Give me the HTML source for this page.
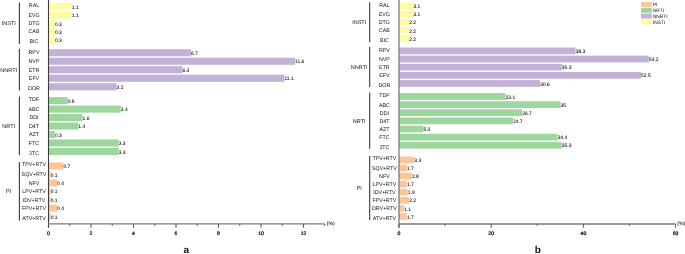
<!DOCTYPE html>
<html><head><meta charset="utf-8"><style>
html,body{margin:0;padding:0;background:#fff;width:685px;height:254px;overflow:hidden}
svg{display:block;will-change:transform}
text{font-family:"Liberation Sans", sans-serif;fill:#111;text-rendering:geometricPrecision}
.v{font-size:4.9px;fill:#000;stroke:#000;stroke-width:0.05px}
.c{font-size:5.3px;text-anchor:middle}
.g{font-size:5.5px;text-anchor:middle}
.t{font-size:5.1px;text-anchor:middle;fill:#000;stroke:#000;stroke-width:0.22px}
.p{font-size:5.1px;fill:#000;stroke:#000;stroke-width:0.05px}
.l{font-size:4.8px}
.ab{font-size:10px;font-weight:bold;fill:#111}
</style></head><body>
<svg width="685" height="254" viewBox="0 0 685 254">
<rect x="48.50" y="3.00" width="23.38" height="7.10" fill="#FFFC9E"/>
<text x="71.97" y="8.65" class="v">1.1</text>
<text x="34.00" y="6.70" class="c">RAL</text>
<rect x="48.50" y="11.45" width="23.38" height="7.10" fill="#FFFC9E"/>
<text x="71.97" y="17.10" class="v">1.1</text>
<text x="34.00" y="16.85" class="c">EVG</text>
<rect x="48.50" y="19.90" width="6.38" height="7.10" fill="#FFFC9E"/>
<text x="54.98" y="25.55" class="v">0.3</text>
<text x="34.00" y="25.30" class="c">DTG</text>
<rect x="48.50" y="28.35" width="6.38" height="7.10" fill="#FFFC9E"/>
<text x="54.98" y="34.00" class="v">0.3</text>
<text x="34.00" y="32.75" class="c">CAB</text>
<rect x="48.50" y="36.80" width="6.38" height="7.10" fill="#FFFC9E"/>
<text x="54.98" y="42.45" class="v">0.3</text>
<text x="34.00" y="42.50" class="c">BIC</text>
<line x1="19.4" y1="2.50" x2="19.4" y2="44.10" stroke="#3a3a3a" stroke-width="1.1"/>
<text x="8.70" y="25.25" class="g">INSTI</text>
<rect x="48.50" y="49.20" width="142.38" height="7.10" fill="#C3B2D8"/>
<text x="190.97" y="54.85" class="v">6.7</text>
<text x="34.00" y="53.90" class="c">RPV</text>
<rect x="48.50" y="57.70" width="246.50" height="7.10" fill="#C3B2D8"/>
<text x="295.10" y="63.35" class="v">11.6</text>
<text x="34.00" y="63.10" class="c">NVP</text>
<rect x="48.50" y="66.20" width="133.88" height="7.10" fill="#C3B2D8"/>
<text x="182.47" y="71.85" class="v">6.3</text>
<text x="34.00" y="71.60" class="c">ETR</text>
<rect x="48.50" y="74.70" width="235.88" height="7.10" fill="#C3B2D8"/>
<text x="284.48" y="80.35" class="v">11.1</text>
<text x="34.00" y="80.10" class="c">EFV</text>
<rect x="48.50" y="83.20" width="68.00" height="7.10" fill="#C3B2D8"/>
<text x="116.60" y="88.85" class="v">3.2</text>
<text x="34.00" y="89.90" class="c">DOR</text>
<line x1="19.4" y1="48.70" x2="19.4" y2="90.50" stroke="#3a3a3a" stroke-width="1.1"/>
<text x="8.70" y="71.55" class="g">NNRTI</text>
<rect x="48.50" y="97.10" width="19.12" height="7.10" fill="#9ED79D"/>
<text x="67.72" y="102.75" class="v">0.9</text>
<text x="34.00" y="100.80" class="c">TDF</text>
<rect x="48.50" y="105.57" width="72.25" height="7.10" fill="#9ED79D"/>
<text x="120.85" y="111.22" class="v">3.4</text>
<text x="34.00" y="110.97" class="c">ABC</text>
<rect x="48.50" y="114.04" width="34.00" height="7.10" fill="#9ED79D"/>
<text x="82.60" y="119.69" class="v">1.6</text>
<text x="34.00" y="119.44" class="c">DDI</text>
<rect x="48.50" y="122.51" width="29.75" height="7.10" fill="#9ED79D"/>
<text x="78.35" y="128.16" class="v">1.4</text>
<text x="34.00" y="127.91" class="c">D4T</text>
<rect x="48.50" y="130.98" width="6.38" height="7.10" fill="#9ED79D"/>
<text x="54.98" y="136.63" class="v">0.3</text>
<text x="34.00" y="136.38" class="c">AZT</text>
<rect x="48.50" y="139.45" width="70.12" height="7.10" fill="#9ED79D"/>
<text x="118.72" y="145.10" class="v">3.3</text>
<text x="34.00" y="144.85" class="c">FTC</text>
<rect x="48.50" y="147.92" width="70.12" height="7.10" fill="#9ED79D"/>
<text x="118.72" y="153.57" class="v">3.3</text>
<text x="34.00" y="154.62" class="c">3TC</text>
<line x1="19.4" y1="96.60" x2="19.4" y2="155.22" stroke="#3a3a3a" stroke-width="1.1"/>
<text x="8.70" y="127.86" class="g">NRTI</text>
<rect x="48.50" y="162.50" width="14.87" height="7.10" fill="#FEC695"/>
<text x="63.48" y="168.15" class="v">0.7</text>
<text x="34.00" y="166.20" class="c">TPV+RTV</text>
<rect x="48.50" y="170.93" width="2.12" height="7.10" fill="#FEC695"/>
<text x="50.73" y="176.58" class="v">0.1</text>
<text x="34.00" y="176.33" class="c">SQV+RTV</text>
<rect x="48.50" y="179.36" width="8.50" height="7.10" fill="#FEC695"/>
<text x="57.10" y="185.01" class="v">0.4</text>
<text x="34.00" y="184.76" class="c">NFV</text>
<rect x="48.50" y="187.79" width="2.12" height="7.10" fill="#FEC695"/>
<text x="50.73" y="193.44" class="v">0.1</text>
<text x="34.00" y="193.19" class="c">LPV+RTV</text>
<rect x="48.50" y="196.22" width="2.12" height="7.10" fill="#FEC695"/>
<text x="50.73" y="201.87" class="v">0.1</text>
<text x="34.00" y="201.62" class="c">IDV+RTV</text>
<rect x="48.50" y="204.65" width="8.50" height="7.10" fill="#FEC695"/>
<text x="57.10" y="210.30" class="v">0.4</text>
<text x="34.00" y="210.05" class="c">FPV+RTV</text>
<rect x="48.50" y="213.08" width="2.12" height="7.10" fill="#FEC695"/>
<text x="50.73" y="218.73" class="v">0.1</text>
<text x="34.00" y="219.78" class="c">ATV+RTV</text>
<line x1="19.4" y1="162.00" x2="19.4" y2="220.38" stroke="#3a3a3a" stroke-width="1.1"/>
<text x="8.70" y="193.14" class="g">PI</text>
<rect x="399.00" y="2.80" width="14.29" height="6.75" fill="#FFFC9E"/>
<text x="413.39" y="8.28" class="v">3.1</text>
<text x="384.40" y="7.32" class="c">RAL</text>
<rect x="399.00" y="10.90" width="14.29" height="6.75" fill="#FFFC9E"/>
<text x="413.39" y="16.38" class="v">3.1</text>
<text x="384.40" y="16.12" class="c">EVG</text>
<rect x="399.00" y="19.00" width="10.14" height="6.75" fill="#FFFC9E"/>
<text x="409.24" y="24.48" class="v">2.2</text>
<text x="384.40" y="24.23" class="c">DTG</text>
<rect x="399.00" y="27.10" width="10.14" height="6.75" fill="#FFFC9E"/>
<text x="409.24" y="32.57" class="v">2.2</text>
<text x="384.40" y="32.32" class="c">CAB</text>
<rect x="399.00" y="35.20" width="10.14" height="6.75" fill="#FFFC9E"/>
<text x="409.24" y="40.67" class="v">2.2</text>
<text x="384.40" y="41.72" class="c">BIC</text>
<line x1="369.7" y1="2.30" x2="369.7" y2="42.15" stroke="#3a3a3a" stroke-width="1.1"/>
<text x="359.20" y="24.17" class="g">INSTI</text>
<rect x="399.00" y="47.50" width="176.56" height="6.75" fill="#C3B2D8"/>
<text x="575.66" y="52.98" class="v">38.3</text>
<text x="384.40" y="52.02" class="c">RPV</text>
<rect x="399.00" y="55.65" width="249.86" height="6.75" fill="#C3B2D8"/>
<text x="648.96" y="61.12" class="v">54.2</text>
<text x="384.40" y="60.88" class="c">NVP</text>
<rect x="399.00" y="63.80" width="162.73" height="6.75" fill="#C3B2D8"/>
<text x="561.83" y="69.27" class="v">35.3</text>
<text x="384.40" y="69.02" class="c">ETR</text>
<rect x="399.00" y="71.95" width="242.03" height="6.75" fill="#C3B2D8"/>
<text x="641.12" y="77.42" class="v">52.5</text>
<text x="384.40" y="77.17" class="c">EFV</text>
<rect x="399.00" y="80.10" width="141.07" height="6.75" fill="#C3B2D8"/>
<text x="540.17" y="85.57" class="v">30.6</text>
<text x="384.40" y="86.62" class="c">DOR</text>
<line x1="369.7" y1="47.00" x2="369.7" y2="87.05" stroke="#3a3a3a" stroke-width="1.1"/>
<text x="359.20" y="68.98" class="g">NNRTI</text>
<rect x="399.00" y="93.10" width="106.49" height="6.75" fill="#9ED79D"/>
<text x="505.59" y="98.57" class="v">23.1</text>
<text x="384.40" y="96.62" class="c">TDF</text>
<rect x="399.00" y="101.23" width="161.35" height="6.75" fill="#9ED79D"/>
<text x="560.45" y="106.70" class="v">35</text>
<text x="384.40" y="107.45" class="c">ABC</text>
<rect x="399.00" y="109.36" width="123.09" height="6.75" fill="#9ED79D"/>
<text x="522.19" y="114.83" class="v">26.7</text>
<text x="384.40" y="114.58" class="c">DDI</text>
<rect x="399.00" y="117.49" width="113.87" height="6.75" fill="#9ED79D"/>
<text x="512.97" y="122.96" class="v">24.7</text>
<text x="384.40" y="122.71" class="c">D4T</text>
<rect x="399.00" y="125.62" width="24.43" height="6.75" fill="#9ED79D"/>
<text x="423.53" y="131.09" class="v">5.3</text>
<text x="384.40" y="130.84" class="c">AZT</text>
<rect x="399.00" y="133.75" width="158.58" height="6.75" fill="#9ED79D"/>
<text x="557.68" y="139.22" class="v">34.4</text>
<text x="384.40" y="138.97" class="c">FTC</text>
<rect x="399.00" y="141.88" width="162.73" height="6.75" fill="#9ED79D"/>
<text x="561.83" y="147.35" class="v">35.3</text>
<text x="384.40" y="149.41" class="c">3TC</text>
<line x1="369.7" y1="92.60" x2="369.7" y2="148.83" stroke="#3a3a3a" stroke-width="1.1"/>
<text x="359.20" y="122.66" class="g">NRTI</text>
<rect x="399.00" y="156.50" width="15.21" height="6.75" fill="#FEC695"/>
<text x="414.31" y="161.97" class="v">3.3</text>
<text x="384.40" y="160.03" class="c">TPV+RTV</text>
<rect x="399.00" y="164.59" width="7.84" height="6.75" fill="#FEC695"/>
<text x="406.94" y="170.06" class="v">1.7</text>
<text x="384.40" y="169.81" class="c">SQV+RTV</text>
<rect x="399.00" y="172.68" width="12.91" height="6.75" fill="#FEC695"/>
<text x="412.01" y="178.16" class="v">2.8</text>
<text x="384.40" y="177.91" class="c">NFV</text>
<rect x="399.00" y="180.77" width="7.84" height="6.75" fill="#FEC695"/>
<text x="406.94" y="186.25" class="v">1.7</text>
<text x="384.40" y="186.00" class="c">LPV+RTV</text>
<rect x="399.00" y="188.86" width="8.76" height="6.75" fill="#FEC695"/>
<text x="407.86" y="194.34" class="v">1.9</text>
<text x="384.40" y="194.09" class="c">IDV+RTV</text>
<rect x="399.00" y="196.95" width="10.14" height="6.75" fill="#FEC695"/>
<text x="409.24" y="202.42" class="v">2.2</text>
<text x="384.40" y="202.17" class="c">FPV+RTV</text>
<rect x="399.00" y="205.04" width="5.07" height="6.75" fill="#FEC695"/>
<text x="404.17" y="210.51" class="v">1.1</text>
<text x="384.40" y="210.26" class="c">DRV+RTV</text>
<rect x="399.00" y="213.13" width="7.84" height="6.75" fill="#FEC695"/>
<text x="406.94" y="218.60" class="v">1.7</text>
<text x="384.40" y="219.66" class="c">ATV+RTV</text>
<line x1="369.7" y1="156.00" x2="369.7" y2="220.08" stroke="#3a3a3a" stroke-width="1.1"/>
<text x="359.20" y="189.99" class="g">PI</text>
<line x1="48.5" y1="0" x2="48.5" y2="227.7" stroke="#3c3c3c" stroke-width="1.1"/>
<line x1="48" y1="223.9" x2="324.8" y2="223.9" stroke="#7a7a7a" stroke-width="1.4"/>
<text x="48.50" y="234.8" class="t">0</text>
<line x1="69.75" y1="224" x2="69.75" y2="225.8" stroke="#5e5e5e" stroke-width="1.1"/>
<line x1="91.00" y1="224" x2="91.00" y2="227.7" stroke="#5e5e5e" stroke-width="1.1"/>
<text x="91.00" y="234.8" class="t">2</text>
<line x1="112.25" y1="224" x2="112.25" y2="225.8" stroke="#5e5e5e" stroke-width="1.1"/>
<line x1="133.50" y1="224" x2="133.50" y2="227.7" stroke="#5e5e5e" stroke-width="1.1"/>
<text x="133.50" y="234.8" class="t">4</text>
<line x1="154.75" y1="224" x2="154.75" y2="225.8" stroke="#5e5e5e" stroke-width="1.1"/>
<line x1="176.00" y1="224" x2="176.00" y2="227.7" stroke="#5e5e5e" stroke-width="1.1"/>
<text x="176.00" y="234.8" class="t">6</text>
<line x1="197.25" y1="224" x2="197.25" y2="225.8" stroke="#5e5e5e" stroke-width="1.1"/>
<line x1="218.50" y1="224" x2="218.50" y2="227.7" stroke="#5e5e5e" stroke-width="1.1"/>
<text x="218.50" y="234.8" class="t">8</text>
<line x1="239.75" y1="224" x2="239.75" y2="225.8" stroke="#5e5e5e" stroke-width="1.1"/>
<line x1="261.00" y1="224" x2="261.00" y2="227.7" stroke="#5e5e5e" stroke-width="1.1"/>
<text x="261.00" y="234.8" class="t">10</text>
<line x1="282.25" y1="224" x2="282.25" y2="225.8" stroke="#5e5e5e" stroke-width="1.1"/>
<line x1="303.50" y1="224" x2="303.50" y2="227.7" stroke="#5e5e5e" stroke-width="1.1"/>
<text x="303.50" y="234.8" class="t">12</text>
<line x1="324.75" y1="224" x2="324.75" y2="225.8" stroke="#5e5e5e" stroke-width="1.1"/>
<text x="326.8" y="224.9" class="p">(%)</text>
<text x="183.6" y="253.3" class="ab">a</text>
<line x1="399" y1="0" x2="399" y2="227.8" stroke="#7a7a7a" stroke-width="1.3"/>
<line x1="398.5" y1="224" x2="675.7" y2="224" stroke="#7a7a7a" stroke-width="1.4"/>
<line x1="399.00" y1="224" x2="399.00" y2="227.8" stroke="#5e5e5e" stroke-width="1.1"/>
<text x="399.00" y="234.9" class="t">0</text>
<line x1="445.10" y1="224" x2="445.10" y2="225.8" stroke="#5e5e5e" stroke-width="1.1"/>
<line x1="491.20" y1="224" x2="491.20" y2="227.8" stroke="#5e5e5e" stroke-width="1.1"/>
<text x="491.20" y="234.9" class="t">20</text>
<line x1="537.30" y1="224" x2="537.30" y2="225.8" stroke="#5e5e5e" stroke-width="1.1"/>
<line x1="583.40" y1="224" x2="583.40" y2="227.8" stroke="#5e5e5e" stroke-width="1.1"/>
<text x="583.40" y="234.9" class="t">40</text>
<line x1="629.50" y1="224" x2="629.50" y2="225.8" stroke="#5e5e5e" stroke-width="1.1"/>
<line x1="675.60" y1="224" x2="675.60" y2="227.8" stroke="#5e5e5e" stroke-width="1.1"/>
<text x="675.60" y="234.9" class="t">60</text>
<text x="677.2" y="224.9" class="p">(%)</text>
<text x="534.8" y="253.3" class="ab">b</text>
<rect x="641" y="2.00" width="10.8" height="5.0" fill="#FEC695"/>
<text x="652.9" y="6.20" class="l">PI</text>
<rect x="641" y="7.80" width="10.8" height="5.0" fill="#9ED79D"/>
<text x="652.9" y="12.00" class="l">NRTI</text>
<rect x="641" y="13.60" width="10.8" height="5.0" fill="#C3B2D8"/>
<text x="652.9" y="17.80" class="l">NNRTI</text>
<rect x="641" y="19.40" width="10.8" height="5.0" fill="#FFFC9E"/>
<text x="652.9" y="23.60" class="l">INSTI</text>
</svg>
</body></html>
